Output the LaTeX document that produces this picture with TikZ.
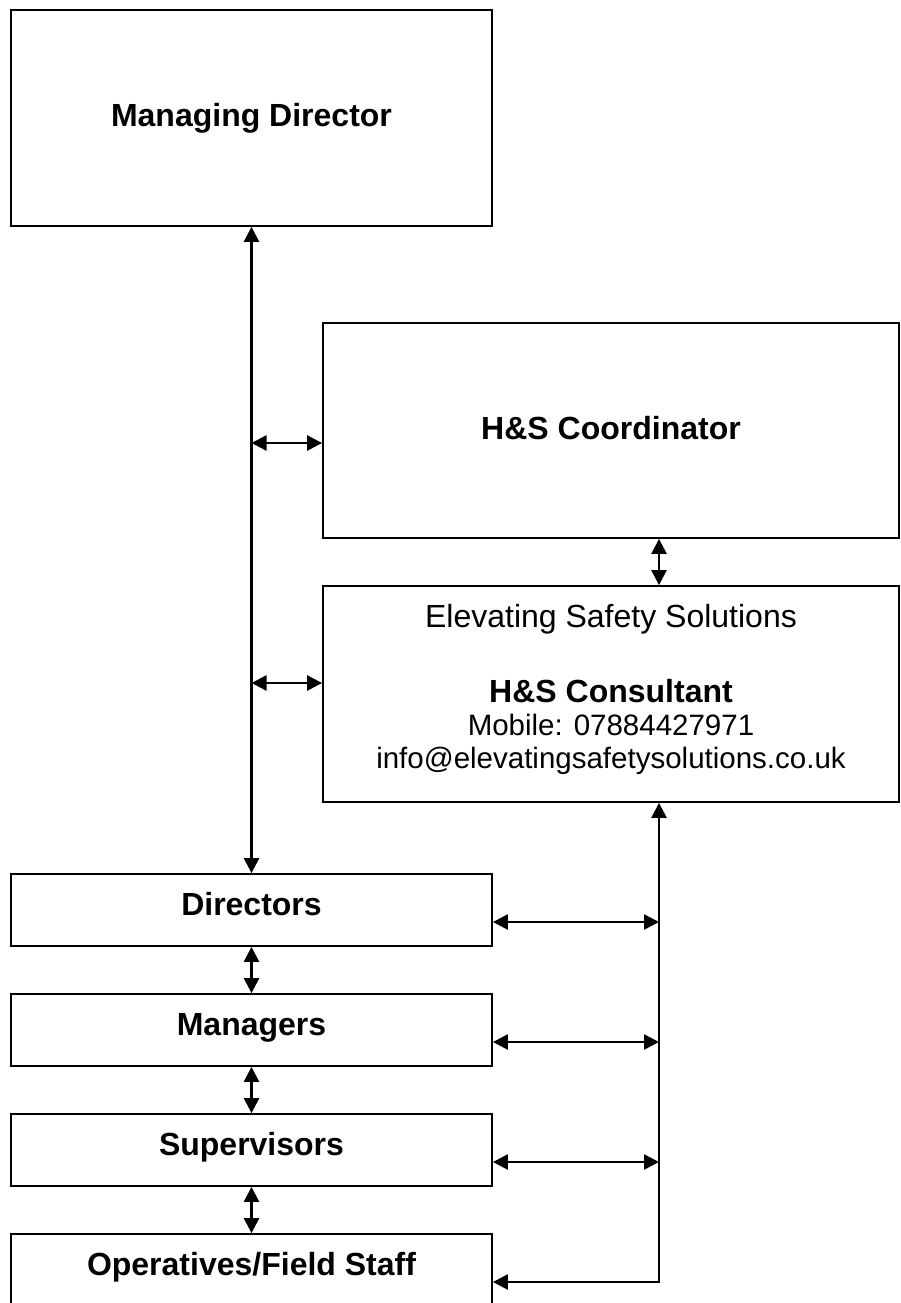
\documentclass[tikz,border=0pt]{standalone}
\usepackage{fontspec}
\setmainfont{Liberation Sans}
\usetikzlibrary{arrows.meta}
\tikzset{
  box/.style={draw=black, line width=1.8pt, rectangle, inner sep=0pt, fill=white},
  head/.style={anchor=base, inner sep=0pt, font=\fontsize{32}{38}\selectfont\bfseries},
  plain/.style={anchor=base, inner sep=0pt, font=\fontsize{32}{38}\selectfont},
  small/.style={anchor=base, inner sep=0pt, font=\fontsize{29.5}{34}\selectfont},
  link/.style={line width=2.5pt, {Triangle[length=15pt,width=15pt]}-{Triangle[length=15pt,width=15pt]}},
}
\begin{document}
\begin{tikzpicture}[x=1pt,y=-1pt]
\useasboundingbox (0,0) rectangle (901,1303);
% boxes
\node[box, minimum width=481pt, minimum height=216pt] (md) at (251.5,118) {};
\node[box, minimum width=576pt, minimum height=215pt] (coord) at (611,430.5) {};
\node[box, minimum width=576pt, minimum height=216pt] (esc) at (611,694) {};
\node[box, minimum width=481pt, minimum height=72pt] (dir) at (251.5,910) {};
\node[box, minimum width=481pt, minimum height=72pt] (man) at (251.5,1030) {};
\node[box, minimum width=481pt, minimum height=72pt] (sup) at (251.5,1150) {};
\node[box, minimum width=481pt, minimum height=72pt] (ops) at (251.5,1270) {};
% texts
\node[head] (tmd) at (251.5,127) {Managing Director};
\node[head] (tcoord) at (611,439) {H\&S Coordinator};
\node[plain] (tesc1) at (611,627) {Elevating Safety Solutions};
\node[head] (tesc2) at (611,702) {H\&S Consultant};
\node[small] (tesc3) at (611,735) {Mobile: 07884427971};
\node[small] (tesc4) at (611,768) {info@elevatingsafetysolutions.co.uk};
\node[head] (tdir) at (251.5,915) {Directors};
\node[head] (tman) at (251.5,1035) {Managers};
\node[head] (tsup) at (251.5,1155) {Supervisors};
\node[head] (tops) at (251.5,1275) {Operatives/Field Staff};
% junction coordinates
\coordinate (j1) at (251.5,443);
\coordinate (j2) at (251.5,683);
\coordinate (cx) at (659,0);
\coordinate (r1) at (659,922);
\coordinate (r2) at (659,1042);
\coordinate (r3) at (659,1162);
\coordinate (r4) at (659,1282);
% left spine
\draw[link] (md.south) -- (dir.north);
\draw[link] (j1) -- (j1 -| coord.west);
\draw[link] (j2) -- (j2 -| esc.west);
\draw[link] (dir.south) -- (man.north);
\draw[link] (man.south) -- (sup.north);
\draw[link] (sup.south) -- (ops.north);
% right side
\draw[link] (coord.south -| cx) -- (esc.north -| cx);
\draw[link] (esc.south -| r4) -- (r4) -- (r4 -| ops.east);
\draw[link] (r1 -| dir.east) -- (r1);
\draw[link] (r2 -| man.east) -- (r2);
\draw[link] (r3 -| sup.east) -- (r3);
\end{tikzpicture}
\end{document}
